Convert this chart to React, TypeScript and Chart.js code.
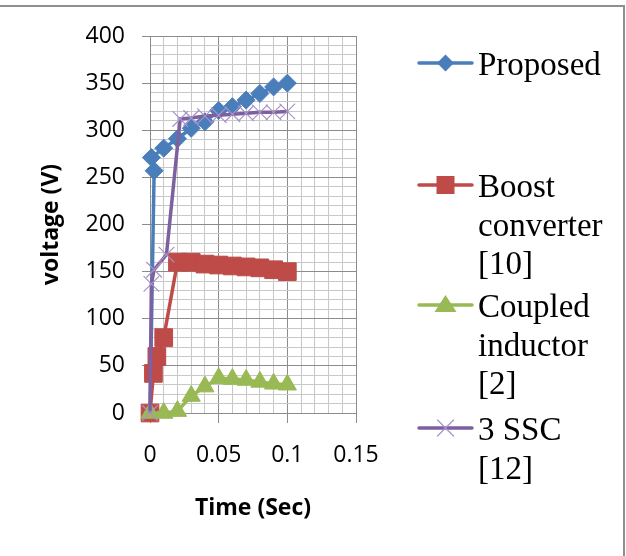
import React, { useEffect, useRef } from 'react';
import { Chart, registerables } from 'chart.js';

Chart.register(...registerables);

// ---- data ----
const proposedTime = [0, 0.003, 0.001, 0.01, 0.02, 0.03, 0.04, 0.05, 0.06, 0.07, 0.08, 0.09, 0.1];
const proposedVoltage = [0, 257, 271, 281, 291, 302, 309, 321, 325, 332, 339, 346, 350];

const boostTime = [0, 0.0025, 0.005, 0.01, 0.02, 0.03, 0.04, 0.05, 0.06, 0.07, 0.08, 0.09, 0.1];
const boostVoltage = [0, 42, 60, 80, 160, 160, 158, 157, 156, 155, 154, 152, 150];

const coupledTime = [0, 0.01, 0.02, 0.03, 0.04, 0.05, 0.06, 0.07, 0.08, 0.09, 0.1];
const coupledVoltage = [0, 0, 2, 18, 28, 37, 36, 35, 33, 31, 30];

const sscTime = [0, 0.001, 0.003, 0.012, 0.022, 0.03, 0.04, 0.05, 0.06, 0.07, 0.08, 0.09, 0.1];
const sscVoltage = [0, 137, 152, 168, 312, 313, 315, 316, 317, 318, 319, 319, 320];

const seriesNames = ['Proposed', 'Boost converter [10]', 'Coupled inductor [2]', '3 SSC [12]'];
const legendLines = [['Proposed'], ['Boost', 'converter', '[10]'], ['Coupled', 'inductor', '[2]'], ['3 SSC', '[12]']];

const xTickLabels = ['0', '0.05', '0.1', '0.15'];
const yAxisTitle = 'voltage (V)';
const xAxisTitle = 'Time (Sec)';

// ---- styles ----
const BLUE = '#4A7EBB';
const RED = '#BE4B48';
const GREEN = '#98B954';
const PURPLE = '#7D60A0';
const PURPLE_LIGHT = '#A793C9';
const MAJOR_GRID = '#8C8C8C';
const MINOR_GRID = '#C8C8C8';
const TICK_FONT = { family: '"Open Sans", sans-serif', size: 23 };
const TITLE_FONT = { family: '"Open Sans", sans-serif', size: 23, weight: 'bold' };

const toPoints = (xs: number[], ys: number[]) => xs.map((x, i) => ({ x, y: ys[i] }));

const legendFirstBaselines = [75, 197, 317, 440];

function drawMarker(ctx: CanvasRenderingContext2D, kind: string, x: number, y: number, color: string) {
  ctx.save();
  ctx.fillStyle = color;
  ctx.strokeStyle = color;
  ctx.beginPath();
  if (kind === 'diamond') {
    ctx.moveTo(x - 8.5, y);
    ctx.lineTo(x, y - 8.5);
    ctx.lineTo(x + 8.5, y);
    ctx.lineTo(x, y + 8.5);
    ctx.closePath();
    ctx.fill();
  } else if (kind === 'square') {
    ctx.rect(x - 9, y - 9, 18, 18);
    ctx.fill();
  } else if (kind === 'triangle') {
    ctx.moveTo(x, y - 10);
    ctx.lineTo(x + 11, y + 7);
    ctx.lineTo(x - 11, y + 7);
    ctx.closePath();
    ctx.fill();
  } else if (kind === 'x') {
    ctx.lineWidth = 1.2;
    ctx.moveTo(x - 8, y - 8);
    ctx.lineTo(x + 8, y + 8);
    ctx.moveTo(x - 8, y + 8);
    ctx.lineTo(x + 8, y - 8);
    ctx.stroke();
  }
  ctx.restore();
}

const legendDefs = [
  { color: BLUE, marker: 'diamond', markerColor: BLUE },
  { color: RED, marker: 'square', markerColor: RED },
  { color: GREEN, marker: 'triangle', markerColor: GREEN },
  { color: PURPLE, marker: 'x', markerColor: PURPLE_LIGHT },
];

const sideLegendPlugin = {
  id: 'sideLegend',
  afterDraw(chart: any) {
    const ctx: CanvasRenderingContext2D = chart.ctx;
    ctx.save();
    ctx.font = '33px "Liberation Serif", "Times New Roman", serif';
    ctx.fillStyle = '#000';
    ctx.textBaseline = 'alphabetic';
    ctx.textAlign = 'left';
    legendDefs.forEach((d, i) => {
      const base = legendFirstBaselines[i];
      const sy = base - 12;
      ctx.strokeStyle = d.color;
      ctx.lineWidth = 3.5;
      ctx.lineCap = 'round';
      ctx.beginPath();
      ctx.moveTo(419, sy);
      ctx.lineTo(472, sy);
      ctx.stroke();
      drawMarker(ctx, d.marker, 445.5, sy, d.markerColor);
      legendLines[i].forEach((t, j) => ctx.fillText(t, 478, base + j * 38.5));
    });
    ctx.restore();
  },
};

const isMajorX = (v: number) => Math.round(v * 100) % 5 === 0;
const isMajorY = (v: number) => Math.round(v) % 50 === 0;

export default function App() {
  const canvasRef = useRef<HTMLCanvasElement | null>(null);

  useEffect(() => {
    if (!canvasRef.current) return;
    const common = { showLine: true, tension: 0, clip: false as any, borderWidth: 3.5, pointBorderWidth: 1 };
    const chart = new Chart(canvasRef.current, {
      type: 'scatter',
      data: {
        datasets: [
          {
            ...common,
            label: seriesNames[0],
            data: toPoints(proposedTime, proposedVoltage),
            borderColor: BLUE,
            backgroundColor: BLUE,
            pointStyle: 'rectRot',
            pointRadius: 9,
            order: 3,
          },
          {
            ...common,
            label: seriesNames[1],
            data: toPoints(boostTime, boostVoltage),
            borderColor: RED,
            backgroundColor: RED,
            pointStyle: 'rect',
            pointRadius: 12.5,
            order: 2,
          },
          {
            ...common,
            label: seriesNames[2],
            data: toPoints(coupledTime, coupledVoltage),
            borderColor: GREEN,
            backgroundColor: GREEN,
            pointStyle: 'triangle',
            pointRadius: 10.5,
            order: 1,
          },
          {
            ...common,
            label: seriesNames[3],
            data: toPoints(sscTime, sscVoltage),
            borderColor: PURPLE,
            backgroundColor: PURPLE_LIGHT,
            pointBorderColor: PURPLE_LIGHT,
            pointBorderWidth: 1.2,
            pointStyle: 'crossRot',
            pointRadius: 11,
            order: 0,
          },
        ],
      },
      options: {
        responsive: false,
        animation: false,
        devicePixelRatio: 1,
        layout: { padding: { left: 0, top: 36, right: 270, bottom: 0 } },
        plugins: { legend: { display: false }, tooltip: { enabled: false } },
        scales: {
          x: {
            type: 'linear',
            min: 0,
            max: 0.15,
            afterFit: (s: any) => {
              s.height = 143;
            },
            ticks: {
              stepSize: 0.01,
              autoSkip: false,
              maxRotation: 0,
              minRotation: 0,
              padding: 19,
              color: '#000',
              font: TICK_FONT,
              callback: (v: any) => {
                const r = Math.round(Number(v) * 100);
                return r % 5 === 0 ? xTickLabels[r / 5] : '';
              },
            },
            grid: {
              color: (c: any) => (isMajorX(c.tick?.value ?? 0) ? MAJOR_GRID : MINOR_GRID),
              tickColor: (c: any) => (isMajorX(c.tick?.value ?? 0) ? MAJOR_GRID : 'rgba(0,0,0,0)'),
              tickLength: 10,
              lineWidth: 1,
            },
            border: { display: true, color: MAJOR_GRID, width: 1 },
            title: {
              display: true,
              text: xAxisTitle,
              color: '#000',
              font: TITLE_FONT,
              padding: { top: 0, bottom: 34 },
            },
          },
          y: {
            type: 'linear',
            min: 0,
            max: 400,
            afterFit: (s: any) => {
              s.width = 150;
            },
            ticks: {
              stepSize: 10,
              autoSkip: false,
              padding: 17,
              color: '#000',
              font: TICK_FONT,
              callback: (v: any) => (isMajorY(Number(v)) ? String(v) : ''),
            },
            grid: {
              color: (c: any) => (isMajorY(c.tick?.value ?? 0) ? MAJOR_GRID : MINOR_GRID),
              tickColor: (c: any) => (isMajorY(c.tick?.value ?? 0) ? MAJOR_GRID : 'rgba(0,0,0,0)'),
              tickLength: 8,
              lineWidth: 1,
            },
            border: { display: true, color: MAJOR_GRID, width: 1 },
            title: {
              display: true,
              text: yAxisTitle,
              color: '#000',
              font: TITLE_FONT,
              padding: { top: 38, bottom: 0 },
            },
          },
        },
      },
      plugins: [sideLegendPlugin],
    } as any);
    return () => chart.destroy();
  }, []);

  return (
    <div style={{ position: 'absolute', left: 0, top: 0, width: 626, height: 556, background: '#fff', overflow: 'hidden' }}>
      <canvas ref={canvasRef} width={626} height={556} style={{ position: 'absolute', left: 0, top: 0 }} />
      <div
        style={{
          position: 'absolute',
          left: 0,
          top: 5,
          width: 625,
          height: 551,
          boxSizing: 'border-box',
          borderTop: '2px solid #8E8E8E',
          borderRight: '2px solid #8E8E8E',
          pointerEvents: 'none',
        }}
      />
    </div>
  );
}
